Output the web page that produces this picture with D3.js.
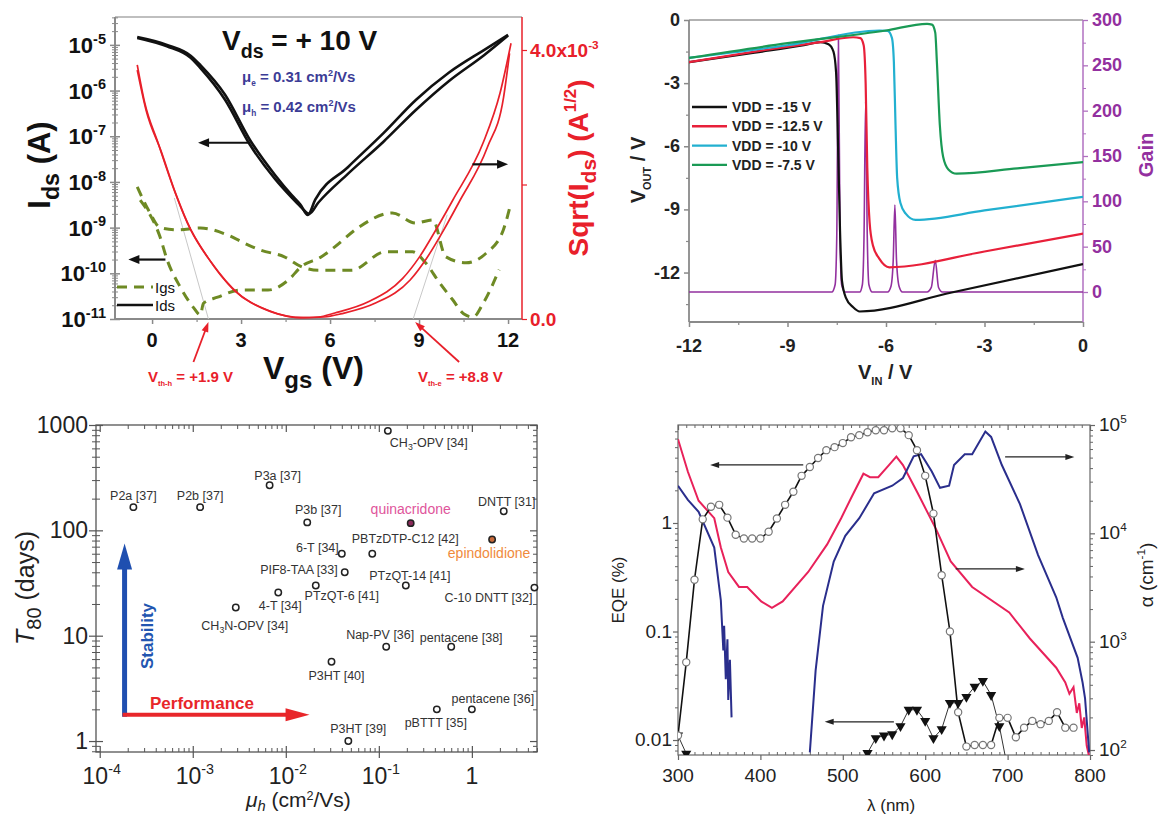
<!DOCTYPE html>
<html><head><meta charset="utf-8">
<script src="https://cdn.jsdelivr.net/npm/d3@7"></script>
<style>body{margin:0;background:#fff}svg{display:block}text{font-family:Arial,'Liberation Sans',Helvetica,sans-serif}</style>
</head><body><script>
// ================= DATA =================
// Panel A : ambipolar transistor transfer curve
const vgsTicks=[0,3,6,9,12];
const vgsMinor=[1.5,4.5,7.5,10.5];
const idsDecades=[1e-11,1e-10,1e-9,1e-8,1e-7,1e-6,1e-5];
const sqrtTicks=[0,2e-3,4e-3];
const idsForward=[[-0.5,1.48e-5],[0.5,1.0e-5],[1.3,5.8e-6],[1.63,3.6e-6],[2.46,8.1e-7],[3.3,8.3e-8],[4.15,1.4e-8],[4.7,5.2e-9],[5.0,3.2e-9],[5.25,1.9e-9],[5.5,4.1e-9],[6.6,2.1e-8],[7.8,1.17e-7],[8.9,6.3e-7],[10.0,2.45e-6],[11.2,7.8e-6],[12.0,1.66e-5]];
const idsReverse=[[-0.5,1.42e-5],[0.5,9.3e-6],[1.3,5.2e-6],[1.63,3.1e-6],[2.46,6.3e-7],[3.3,6.5e-8],[4.15,1.15e-8],[4.7,4.6e-9],[5.0,2.9e-9],[5.3,2.0e-9],[5.6,3.5e-9],[6.6,1.5e-8],[7.8,7.6e-8],[8.9,3.8e-7],[10.0,1.6e-6],[11.2,6.0e-6],[12.0,1.6e-5]];
const sqrtForward=[[-0.5,3.78e-3],[-0.25,3.22e-3],[0.2,2.62e-3],[0.71,1.96e-3],[1.19,1.43e-3],[1.87,0.92e-3],[2.76,0.43e-3],[3.9,0.13e-3],[5.0,0.02e-3],[5.6,0.03e-3],[6.16,0.09e-3],[7.31,0.26e-3],[8.44,0.6e-3],[9.01,0.92e-3],[9.56,1.32e-3],[10.14,1.77e-3],[11.16,2.62e-3],[11.73,3.36e-3],[12.1,4.1e-3]];
const sqrtReverse=[[-0.5,3.7e-3],[-0.2,3.1e-3],[0.3,2.5e-3],[0.8,1.86e-3],[1.3,1.33e-3],[2.0,0.84e-3],[2.9,0.38e-3],[4.0,0.11e-3],[5.1,0.02e-3],[5.8,0.03e-3],[6.4,0.08e-3],[7.55,0.24e-3],[8.7,0.58e-3],[9.25,0.9e-3],[9.8,1.3e-3],[10.35,1.74e-3],[11.3,2.55e-3],[11.85,3.3e-3],[12.05,3.95e-3]];
const igsForward=[[-0.5,7.8e-9],[-0.07,2.1e-9],[0.27,1.0e-9],[0.85,8.9e-10],[1.63,9.8e-10],[2.55,6.9e-10],[3.23,4.2e-10],[3.67,3.2e-10],[4.46,2.3e-10],[5.03,1.4e-10],[5.61,1.17e-10],[6.73,1.17e-10],[7.86,2.95e-10],[8.78,2.95e-10],[9.22,1.7e-10],[9.69,6.2e-11],[10.14,2.6e-11],[10.5,1.3e-11],[10.82,1.1e-11],[11.16,2.2e-11],[11.7,1.2e-10]];
const igsReverse=[[-0.4,4.0e-9],[0.27,6.2e-10],[0.51,1.95e-10],[0.95,5.0e-11],[1.39,1.8e-11],[1.63,1.23e-11],[1.73,2.2e-11],[2.21,3.0e-11],[2.99,4.3e-11],[3.91,4.3e-11],[4.59,7.1e-11],[5.03,1.4e-10],[5.71,2.3e-10],[6.16,3.8e-10],[6.97,1.02e-9],[8.10,2.1e-9],[8.88,1.26e-9],[9.46,1.48e-9],[9.90,2.3e-10],[10.58,1.7e-10],[11.26,2.75e-10],[11.84,8.9e-10],[12.1,3.5e-9]];
const vthHole=1.9, vthElectron=8.8;

// Panel B : inverter transfer + gain
const vinTicks=[-12,-9,-6,-3,0];
const vinMinor=[-10.5,-7.5,-4.5,-1.5];
const voutTicks=[0,-3,-6,-9,-12];
const voutMinor=[-1.5,-4.5,-7.5,-10.5,-13.5];
const gainTicks=[0,50,100,150,200,250,300];
const gainMinor=[25,75,125,175,225,275];
const vdd15=[[-12,-2.0],[-10,-1.55],[-8.5,-1.2],[-8.0,-1.05],[-7.75,-1.15],[-7.6,-1.5],[-7.52,-2.5],[-7.46,-6],[-7.4,-10],[-7.34,-12.4],[-7.22,-13.2],[-7.0,-13.65],[-6.8,-13.85],[-4,-12.95],[0,-11.6]];
const vdd125=[[-12,-2.0],[-10,-1.5],[-8,-1.05],[-7.0,-0.82],[-6.78,-0.86],[-6.68,-1.2],[-6.62,-3],[-6.57,-7],[-6.5,-9.6],[-6.4,-10.7],[-6.2,-11.35],[-5.9,-11.75],[-3,-11.0],[0,-10.15]];
const vdd10=[[-12,-1.8],[-9,-1.2],[-6.2,-0.5],[-5.95,-0.52],[-5.82,-0.85],[-5.76,-2],[-5.71,-5],[-5.66,-7.5],[-5.56,-8.7],[-5.4,-9.2],[-5.1,-9.5],[-3,-9.05],[0,-8.4]];
const vdd75=[[-12,-1.8],[-9,-1.1],[-6,-0.5],[-4.75,-0.18],[-4.6,-0.22],[-4.5,-0.6],[-4.45,-2],[-4.36,-5],[-4.26,-6.5],[-4.1,-7.1],[-3.85,-7.3],[-2,-7.05],[0,-6.75]];
const gainCurve=[[-12,0],[-7.65,0],[-7.55,8],[-7.5,60],[-7.45,283],[-7.4,60],[-7.35,8],[-7.25,0],[-6.8,0],[-6.72,8],[-6.67,60],[-6.62,210],[-6.57,60],[-6.52,8],[-6.42,0],[-5.95,0],[-5.85,6],[-5.78,35],[-5.73,96],[-5.68,35],[-5.6,6],[-5.5,0],[-4.75,0],[-4.62,5],[-4.5,35],[-4.4,5],[-4.28,0],[0,0]];
const vddLabels=['VDD = -15 V','VDD = -12.5 V','VDD = -10 V','VDD = -7.5 V'];

// Panel C : stability vs mobility
const muTicks=[1e-4,1e-3,1e-2,1e-1,1];
const t80Ticks=[1,10,100,1000];
const materials=['P2a [37]','P2b [37]','P3a [37]','CH_3-OPV [34]','P3b [37]','quinacridone','DNTT [31]','6-T [34]','PBTzDTP-C12 [42]','epindolidione','PIF8-TAA [33]','PTzQT-14 [41]','PTzQT-6 [41]','4-T [34]','C-10 DNTT [32]','CH_3N-OPV [34]','Nap-PV [36]','pentacene [38]','P3HT [40]','pBTTT [35]','pentacene [36]','P3HT [39]'];
const mobility=[2.3e-4,1.2e-3,6.7e-3,0.125,0.017,0.22,2.2,0.04,0.085,1.65,0.043,0.195,0.021,0.0083,4.7,0.0029,0.12,0.6,0.031,0.42,1.0,0.047];
const t80=[166,166,268,880,119,117,152,60,60,82,40,30,30,25.7,28.6,18.5,7.85,7.85,5.65,2,2,1];

// Panel D : EQE and absorption
const lambdaTicks=[300,400,500,600,700,800];
const eqeTicks=[0.01,0.1,1];
const alphaTicks=[1e2,1e3,1e4,1e5];
const eqeLambda=[300,310,320,330,340,350,360,370,380,390,400,410,420,430,440,450,460,470,480,490,500,510,520,530,540,550,560,570,580,590,600,610,620,630,640,650,660,670,680,690,700,710,720,730,740,750,760,770,780];
const eqeCircles=[0.011,0.052,0.30,1.08,1.41,1.47,1.12,0.78,0.72,0.72,0.72,0.83,1.10,1.47,1.94,2.72,3.28,3.97,4.69,5.0,5.45,6.17,6.45,6.86,7.16,7.16,7.47,7.47,6.45,4.69,2.72,1.22,0.33,0.1,0.018,0.0087,0.009,0.009,0.009,0.016,0.016,0.0106,0.013,0.015,0.014,0.015,0.018,0.013,0.013];
const triLambdaUV=[300,310];
const eqeTrianglesUV=[0.011,0.0075];
const triLambdaVis=[530,540,550,560,570,580,590,600,610,620,630,640,650,660,670,680,690,700];
const eqeTrianglesVis=[0.0076,0.0104,0.011,0.0113,0.0134,0.019,0.019,0.015,0.0104,0.0126,0.022,0.022,0.025,0.031,0.035,0.026,0.0134,0.0055];
const pinkAlpha=[[300,74000],[312,37000],[325,20000],[344,13800],[352,7400],[361,4400],[374,3200],[384,3200],[401,2350],[414,2050],[427,2350],[458,4400],[481,7900],[498,13800],[511,21900],[525,35500],[533,33000],[543,33000],[556,42700],[565,51000],[573,42700],[591,23400],[613,11000],[631,5500],[657,3200],[702,1860],[727,1070],[759,575],[770,420],[775,330],[780,380],[784,220],[787,270],[790,160],[793,200],[796,110],[800,80]];
const blueAlphaUV=[[300,27500],[312,20400],[325,15800],[344,7400],[352,2400],[355,830],[356,1400],[358,450],[360,1050],[361,290],[363,680],[365,200]];
const blueAlphaVis=[[460,95],[463,200],[467,540],[476,2140],[489,5500],[503,9500],[520,13800],[538,23400],[560,27500],[573,32400],[586,51300],[595,53700],[608,37200],[618,26300],[629,27500],[635,42700],[648,53700],[657,53700],[673,87000],[680,77600],[693,42700],[715,18600],[737,6300],[759,2570],[767,1660],[785,710],[791,420],[794,300],[799,95]];

// ================= HELPERS =================
const svg=d3.select('body').append('svg').attr('width',1161).attr('height',816);
const defs=svg.append('defs');
function clip(id,x0,y0,x1,y1){defs.append('clipPath').attr('id',id).append('rect').attr('x',x0).attr('y',y0).attr('width',x1-x0).attr('height',y1-y0);return `url(#${id})`;}
function rich(g,x,y,parts,o){
  const t=g.append('text').attr('x',x).attr('y',y).attr('font-size',o.size)
   .attr('font-weight',o.bold?'bold':'normal').attr('fill',o.fill||'#111').attr('text-anchor',o.anchor||'start');
  if(o.rotate) t.attr('transform',`rotate(-90,${x},${y})`);
  if(o.italic) t.attr('font-style','italic');
  let cur=0;
  parts.forEach(p=>{
    const s=typeof p==='string'?{t:p}:p;
    let off=0,sz=o.size;
    if(s.sub){off=o.size*(s.shift||0.28);sz=o.size*(s.scale||0.62);}
    if(s.sup){off=-o.size*(s.shift||0.42);sz=o.size*(s.scale||0.62);}
    const ts=t.append('tspan').attr('dy',off-cur).attr('font-size',sz).text(s.t);
    if(s.italic) ts.attr('font-style','italic');
    if(s.fill) ts.attr('fill',s.fill);
    cur=off;
  });
  return t;
}
function arrow(g,x1,y1,x2,y2,c,w,hl,hw){
  const a=Math.atan2(y2-y1,x2-x1),bx=x2-hl*Math.cos(a),by=y2-hl*Math.sin(a);
  g.append('line').attr('x1',x1).attr('y1',y1).attr('x2',bx+2*Math.cos(a)).attr('y2',by+2*Math.sin(a)).attr('stroke',c).attr('stroke-width',w);
  const px=-Math.sin(a),py=Math.cos(a);
  g.append('path').attr('d',`M${x2},${y2}L${bx+px*hw/2},${by+py*hw/2}L${bx-px*hw/2},${by-py*hw/2}Z`).attr('fill',c);
}
function ticks(g,fn,scale,values,size,tx,ty,color,sw){
  const a=g.append('g').attr('transform',`translate(${tx},${ty})`).call(fn(scale).tickValues(values).tickSize(size).tickFormat(''));
  a.select('.domain').remove();
  a.selectAll('line').attr('stroke',color).attr('stroke-width',sw||1);
  return a;
}
function hline(g,x0,x1,y,c,w){g.append('line').attr('x1',x0).attr('x2',x1).attr('y1',y).attr('y2',y).attr('stroke',c).attr('stroke-width',w);}
function vline(g,x,y0,y1,c,w){g.append('line').attr('x1',x).attr('x2',x).attr('y1',y0).attr('y2',y1).attr('stroke',c).attr('stroke-width',w);}
function minorsOf(scale,majors){const m=majors.map(v=>+v.toPrecision(6));return scale.ticks().filter(v=>!m.includes(+v.toPrecision(6)));}
const GRAY='#8a8a8a';

// ================= PANEL A =================
(function(){
  const g=svg.append('g');
  const x=d3.scaleLinear().domain([-1.25,12.47]).range([115,522]);
  const y=d3.scaleLog().domain([1e-11,Math.pow(10,-4.39)]).range([319,17]);
  const s=d3.scaleLinear().domain([0,4e-3]).range([319,50]);
  const [L,R]=x.range(),[B,T]=y.range();
  const cp=clip('cA',L,T,R,B+2);
  hline(g,L,R,T,'#aaa',1.5);
  vline(g,L,T,B,GRAY,2);
  hline(g,L,R,B,GRAY,2);
  vline(g,R,T,B,'#e8202a',1.5);
  ticks(g,d3.axisLeft,y,idsDecades,5,L,0,GRAY,1.5);
  ticks(g,d3.axisLeft,y,idsDecades,-5,L,0,GRAY,1.5);
  const minY=minorsOf(y,idsDecades);
  ticks(g,d3.axisLeft,y,minY,3,L,0,GRAY,1);
  ticks(g,d3.axisLeft,y,minY,-3,L,0,GRAY,1);
  ticks(g,d3.axisBottom,x,vgsTicks,5,0,B,GRAY,1.5);
  ticks(g,d3.axisBottom,x,vgsMinor,3,0,B,GRAY,1.2);
  ticks(g,d3.axisLeft,s,sqrtTicks,-5,R,0,'#e8202a',1.2);
  idsDecades.forEach(v=>rich(g,L-9,y(v)+8,['10',{t:String(Math.round(Math.log10(v))),sup:true,scale:0.66}],{size:22,bold:true,anchor:'end'}));
  vgsTicks.forEach(v=>g.append('text').attr('x',x(v)).attr('y',B+28).attr('text-anchor','middle').attr('font-size',20).attr('font-weight','bold').attr('fill','#111').text(v));
  rich(g,R+8,s(4e-3)+7,['4.0x10',{t:'-3',sup:true,scale:0.62}],{size:19,bold:true,fill:'#e8202a'});
  rich(g,R+8,s(0)+7,['0.0'],{size:19,bold:true,fill:'#e8202a'});
  rich(g,263,379,['V',{t:'gs',sub:true,scale:0.75},' (V)'],{size:32,bold:true});
  rich(g,50,165,['I',{t:'ds',sub:true,scale:0.75},' (A)'],{size:31,bold:true,rotate:true,anchor:'middle'});
  rich(g,588,168,['Sqrt(I',{t:'ds',sub:true,scale:0.75},') (A',{t:'1/2',sup:true,scale:0.6},')'],{size:28,bold:true,fill:'#e8202a',rotate:true,anchor:'middle'});
  const cg=g.append('g').attr('clip-path',cp);
  const lineL=d3.line().x(d=>x(d[0])).y(d=>y(d[1])).curve(d3.curveMonotoneX);
  const lineS=d3.line().x(d=>x(d[0])).y(d=>s(d[1])).curve(d3.curveMonotoneX);
  cg.append('line').attr('x1',x(vthHole)).attr('y1',s(0)).attr('x2',x(0.75)).attr('y2',s(1.8e-3)).attr('stroke','#c8c8c8').attr('stroke-width',1);
  cg.append('line').attr('x1',x(vthElectron)).attr('y1',s(0)).attr('x2',x(9.95)).attr('y2',s(1.55e-3)).attr('stroke','#c8c8c8').attr('stroke-width',1);
  [igsForward,igsReverse].forEach(d=>cg.append('path').attr('d',lineL(d)).attr('fill','none').attr('stroke','#6e8a24').attr('stroke-width',3).attr('stroke-dasharray','10,7'));
  [sqrtForward,sqrtReverse].forEach(d=>cg.append('path').attr('d',lineS(d)).attr('fill','none').attr('stroke','#e8202a').attr('stroke-width',1.7));
  [idsForward,idsReverse].forEach(d=>cg.append('path').attr('d',lineL(d)).attr('fill','none').attr('stroke','#111').attr('stroke-width',2.6));
  g.append('line').attr('x1',L+2).attr('x2',L+38).attr('y1',287).attr('y2',287).attr('stroke','#6e8a24').attr('stroke-width',3).attr('stroke-dasharray','10,7');
  g.append('line').attr('x1',L+2).attr('x2',L+38).attr('y1',305).attr('y2',305).attr('stroke','#111').attr('stroke-width',2.5);
  g.append('text').attr('x',L+40).attr('y',293).attr('font-size',15).attr('fill','#111').text('Igs');
  g.append('text').attr('x',L+40).attr('y',311).attr('font-size',15).attr('fill','#111').text('Ids');
  rich(g,222,50,['V',{t:'ds',sub:true,scale:0.7},' = + 10 V'],{size:28,bold:true});
  rich(g,242,82,['\u03bc',{t:'e',sub:true,scale:0.55},' = 0.31 cm',{t:'2',sup:true,scale:0.6},'/Vs'],{size:15,bold:true,fill:'#3c3c96'});
  rich(g,242,112,['\u03bc',{t:'h',sub:true,scale:0.55},' = 0.42 cm',{t:'2',sup:true,scale:0.6},'/Vs'],{size:15,bold:true,fill:'#3c3c96'});
  arrow(g,x(3.3),y(7.2e-8),x(1.55),y(7.2e-8),'#111',2.2,11,9);
  arrow(g,x(0.45),y(2.0e-10),x(-0.8),y(2.0e-10),'#111',2.2,11,9);
  arrow(g,x(10.8),s(2.3e-3),x(12.0),s(2.3e-3),'#111',2.2,11,9);
  arrow(g,x(vthHole)-15,B+43,x(vthHole),B+3,'#e8202a',1.8,10,7);
  arrow(g,x(vthElectron)+46,B+43,x(vthElectron)+2,B+3,'#e8202a',1.8,10,7);
  rich(g,148,382,['V',{t:'th-h',sub:true,scale:0.5},' = +1.9 V'],{size:15,bold:true,fill:'#e8202a'});
  rich(g,418,382,['V',{t:'th-e',sub:true,scale:0.5},' = +8.8 V'],{size:15,bold:true,fill:'#e8202a'});
})();

// ================= PANEL B =================
(function(){
  const g=svg.append('g');
  const x=d3.scaleLinear().domain([-12,0]).range([689,1083]);
  const y=d3.scaleLinear().domain([-14.35,0]).range([322,20]);
  const gy=d3.scaleLinear().domain([-33.1,300]).range([322,20]);
  const [L,R]=x.range(),[B,T]=y.range();
  const PUR='#93309f';
  hline(g,L,R,T,'#999',1.5);
  vline(g,L,T,B,GRAY,1.8);
  hline(g,L,R,B,GRAY,1.8);
  vline(g,R,T,B,'#b070c0',1.5);
  ticks(g,d3.axisLeft,y,voutTicks,5,L,0,GRAY,1.5);
  ticks(g,d3.axisLeft,y,voutMinor,3,L,0,GRAY,1.2);
  ticks(g,d3.axisBottom,x,vinTicks,5,0,B,GRAY,1.5);
  ticks(g,d3.axisBottom,x,vinMinor,3,0,B,GRAY,1.2);
  ticks(g,d3.axisLeft,gy,gainTicks,-5,R,0,'#b070c0',1.3);
  ticks(g,d3.axisLeft,gy,gainMinor,-3,R,0,'#b070c0',1);
  voutTicks.forEach(v=>g.append('text').attr('x',L-9).attr('y',y(v)+6).attr('text-anchor','end').attr('font-size',18).attr('font-weight','bold').attr('fill','#222').text(v));
  vinTicks.forEach(v=>g.append('text').attr('x',x(v)).attr('y',B+30).attr('text-anchor','middle').attr('font-size',18).attr('font-weight','bold').attr('fill','#222').text(v));
  gainTicks.forEach(v=>g.append('text').attr('x',R+9).attr('y',gy(v)+6).attr('font-size',18).attr('font-weight','bold').attr('fill',PUR).text(v));
  rich(g,858,379,['V',{t:'IN',sub:true,scale:0.55},' / V'],{size:20,bold:true,fill:'#222'});
  rich(g,645,170,['V',{t:'OUT',sub:true,scale:0.55},' / V'],{size:20,bold:true,fill:'#222',rotate:true,anchor:'middle'});
  rich(g,1153,155,['Gain'],{size:20,bold:true,fill:PUR,rotate:true,anchor:'middle'});
  const cg=g.append('g').attr('clip-path',clip('cB',L,T,R,B));
  const ln=d3.line().x(d=>x(d[0])).y(d=>y(d[1])).curve(d3.curveMonotoneX);
  const lg=d3.line().x(d=>x(d[0])).y(d=>gy(d[1])).curve(d3.curveMonotoneX);
  const series=[vdd15,vdd125,vdd10,vdd75],cols=['#111','#e8203a','#22b0d0','#1a9a55'];
  cg.append('path').attr('d',lg(gainCurve)).attr('fill','none').attr('stroke',PUR).attr('stroke-width',1.6);
  series.forEach((d,i)=>cg.append('path').attr('d',ln(d)).attr('fill','none').attr('stroke',cols[i]).attr('stroke-width',2.2));
  vddLabels.forEach((t,i)=>{
    const yy=107+i*19.3;
    g.append('line').attr('x1',L+3).attr('x2',L+38).attr('y1',yy).attr('y2',yy).attr('stroke',cols[i]).attr('stroke-width',2.4);
    g.append('text').attr('x',L+43).attr('y',yy+5).attr('font-size',14).attr('font-weight','bold').attr('fill','#222').text(t);
  });
})();

// ================= PANEL C =================
(function(){
  const g=svg.append('g');
  const x=d3.scaleLog().domain([Math.pow(10,-4.04),Math.pow(10,0.7)]).range([96,537]);
  const y=d3.scaleLog().domain([Math.pow(10,-0.104),1000]).range([752,425]);
  const [L,R]=x.range(),[B,T]=y.range();
  const FC='#555';
  g.append('rect').attr('x',L).attr('y',T).attr('width',R-L).attr('height',B-T).attr('fill','none').attr('stroke',FC).attr('stroke-width',1.3);
  const mx=minorsOf(x,muTicks),my=minorsOf(y,t80Ticks);
  ticks(g,d3.axisLeft,y,t80Ticks,7,L,0,FC,1.2); ticks(g,d3.axisLeft,y,t80Ticks,-7,L,0,FC,1.2);
  ticks(g,d3.axisLeft,y,my,4,L,0,FC,1); ticks(g,d3.axisLeft,y,my,-4,L,0,FC,1);
  ticks(g,d3.axisRight,y,t80Ticks,-7,R,0,FC,1.2); ticks(g,d3.axisRight,y,my,-4,R,0,FC,1);
  ticks(g,d3.axisBottom,x,muTicks,6,0,B,FC,1.2); ticks(g,d3.axisBottom,x,muTicks,-6,0,B,FC,1.2);
  ticks(g,d3.axisBottom,x,mx,-4,0,B,FC,1);
  ticks(g,d3.axisTop,x,muTicks,-7,0,T,FC,1.2); ticks(g,d3.axisTop,x,mx,-4,0,T,FC,1);
  t80Ticks.forEach(v=>g.append('text').attr('x',L-8).attr('y',y(v)+8).attr('text-anchor','end').attr('font-size',23).attr('fill','#222').text(v));
  muTicks.forEach(v=>{
    if(v===1) g.append('text').attr('x',x(v)).attr('y',784).attr('text-anchor','middle').attr('font-size',23).attr('fill','#222').text('1');
    else rich(g,x(v)+2,784,['10',{t:String(Math.round(Math.log10(v))),sup:true,scale:0.62}],{size:23,fill:'#222',anchor:'middle'});
  });
  rich(g,246,807,[{t:'\u03bc',italic:true},{t:'h',sub:true,italic:true,scale:0.7,shift:0.18},' (cm',{t:'2',sup:true,scale:0.6,shift:0.35},'/Vs)'],{size:21,fill:'#222'});
  rich(g,34,588,[{t:'T',italic:true},{t:'80',sub:true,scale:0.8},' (days)'],{size:25,fill:'#222',rotate:true,anchor:'middle'});
  const ax=x(1.85e-4),ay=y(1.78);
  arrow(g,ax,ay+2,ax,y(75),'#1f4fb0',5,26,15);
  arrow(g,ax-2,ay,x(0.018),ay,'#e8262a',4,24,13);
  rich(g,153,636,['Stability'],{size:17,bold:true,fill:'#2255b0',rotate:true,anchor:'middle'});
  g.append('text').attr('x',150).attr('y',709).attr('font-size',17).attr('font-weight','bold').attr('fill','#e8262a').text('Performance');
  const labelPos=[[0,-7,'middle'],[0,-7,'middle'],[8,-5,'middle'],[2,16,'start'],[11,-8,'middle'],[0,-9,'middle'],[3,-5,'middle'],[-3,-2,'end'],[33,-11,'middle'],[-3,19,'middle'],[-7,2,'end'],[4,-5,'middle'],[26,15,'middle'],[2,17,'middle'],[-2,14,'end'],[9,22,'middle'],[-6,-8,'middle'],[10,-5,'middle'],[5,18,'middle'],[-1,18,'middle'],[21,-6,'middle'],[10,-8,'middle']];
  const fills=m=>m==='quinacridone'?'#8b2a5a':m==='epindolidione'?'#c86a3a':'#fff';
  const tcol=m=>m==='quinacridone'?'#e0559b':m==='epindolidione'?'#f08a3c':'#333';
  g.selectAll('circle.pt').data(materials).join('circle').attr('class','pt')
    .attr('cx',(d,i)=>x(mobility[i])).attr('cy',(d,i)=>y(t80[i])).attr('r',3.2)
    .attr('fill',d=>fills(d)).attr('stroke','#222').attr('stroke-width',1.5);
  materials.forEach((m,i)=>{
    const [dx,dy,an]=labelPos[i];
    const big=(m==='quinacridone'||m==='epindolidione');
    const parts=m.includes('_')?[m.split('_')[0],{t:m.split('_')[1][0],sub:true,scale:0.7},m.split('_')[1].slice(1)]:[m];
    rich(g,x(mobility[i])+dx,y(t80[i])+dy,parts,{size:big?14:12.5,fill:tcol(m),anchor:an});
  });
})();

// ================= PANEL D =================
(function(){
  const g=svg.append('g');
  const x=d3.scaleLinear().domain([300,800]).range([678,1090]);
  const ye=d3.scaleLog().domain([Math.pow(10,-2.138),Math.pow(10,0.903)]).range([755,425]);
  const ya=d3.scaleLog().domain([Math.pow(10,1.954),1e5]).range([755,425]);
  const [L,R]=x.range(),[B,T]=ye.range();
  const FC='#666';
  g.append('rect').attr('x',L).attr('y',T).attr('width',R-L).attr('height',B-T).attr('fill','none').attr('stroke',FC).attr('stroke-width',1.2);
  const lamMinor=d3.range(310,800,10).filter(v=>v%100!==0);
  ticks(g,d3.axisBottom,x,lambdaTicks,5,0,B,FC,1.2);
  ticks(g,d3.axisBottom,x,lamMinor,-3,0,B,FC,1);
  ticks(g,d3.axisTop,x,lambdaTicks,-5,0,T,FC,1.2);
  ticks(g,d3.axisTop,x,lamMinor,-3,0,T,FC,1);
  ticks(g,d3.axisLeft,ye,eqeTicks,5,L,0,FC,1.2);
  ticks(g,d3.axisLeft,ye,minorsOf(ye,eqeTicks),3,L,0,FC,1);
  ticks(g,d3.axisRight,ya,alphaTicks,5,R,0,FC,1.2);
  ticks(g,d3.axisRight,ya,minorsOf(ya,alphaTicks),3,R,0,FC,1);
  lambdaTicks.forEach(v=>g.append('text').attr('x',x(v)).attr('y',782).attr('text-anchor','middle').attr('font-size',19).attr('fill','#222').text(v));
  eqeTicks.forEach(v=>g.append('text').attr('x',L-6).attr('y',ye(v)+6).attr('text-anchor','end').attr('font-size',19).attr('fill','#222').text(v));
  alphaTicks.forEach(v=>rich(g,R+9,ya(v)+6,['10',{t:String(Math.round(Math.log10(v))),sup:true,scale:0.62}],{size:19,fill:'#222'}));
  g.append('text').attr('x',867).attr('y',811).attr('font-size',17).attr('fill','#222').text('\u03bb (nm)');
  rich(g,624,590,['EQE (%)'],{size:17,fill:'#222',rotate:true,anchor:'middle'});
  rich(g,1153,575,['\u03b1 (cm',{t:'-1',sup:true,scale:0.62},')'],{size:19,fill:'#222',rotate:true,anchor:'middle'});
  const cg=g.append('g').attr('clip-path',clip('cD',L,T,R,B));
  const la=d3.line().x(d=>x(d[0])).y(d=>ya(d[1]));
  const le=d3.line().x(d=>x(d[0])).y(d=>ye(d[1]));
  cg.append('path').attr('d',la(pinkAlpha)).attr('fill','none').attr('stroke','#e8215a').attr('stroke-width',2);
  cg.append('path').attr('d',la(blueAlphaUV)).attr('fill','none').attr('stroke','#2a2e8c').attr('stroke-width',2);
  cg.append('path').attr('d',la(blueAlphaVis)).attr('fill','none').attr('stroke','#2a2e8c').attr('stroke-width',2);
  const circ=eqeLambda.map((l,i)=>[l,eqeCircles[i]]);
  const triU=triLambdaUV.map((l,i)=>[l,eqeTrianglesUV[i]]);
  const triV=triLambdaVis.map((l,i)=>[l,eqeTrianglesVis[i]]);
  cg.append('path').attr('d',le(triU)).attr('fill','none').attr('stroke','#333').attr('stroke-width',1);
  cg.append('path').attr('d',le(triV)).attr('fill','none').attr('stroke','#333').attr('stroke-width',1);
  cg.append('path').attr('d',le(circ)).attr('fill','none').attr('stroke','#111').attr('stroke-width',1.6);
  const tri=d3.symbol().type(d3.symbolTriangle).size(45);
  cg.selectAll('path.tri').data(triU.concat(triV)).join('path').attr('class','tri').attr('d',tri)
    .attr('transform',d=>`translate(${x(d[0])},${ye(d[1])}) rotate(180)`).attr('fill','#111');
  cg.selectAll('circle.c').data(circ).join('circle').attr('class','c').attr('cx',d=>x(d[0])).attr('cy',d=>ye(d[1])).attr('r',3.6)
    .attr('fill','#fff').attr('stroke','#777').attr('stroke-width',1.2);
  arrow(g,x(452),ye(3.43),x(339),ye(3.43),'#222',1.2,9,6);
  arrow(g,x(697),ye(4.06),x(781),ye(4.06),'#222',1.2,9,6);
  arrow(g,x(637),ye(0.377),x(721),ye(0.377),'#222',1.2,9,6);
  arrow(g,x(562),ye(0.0147),x(478),ye(0.0147),'#222',1.2,9,6);
})();
</script></body></html>
